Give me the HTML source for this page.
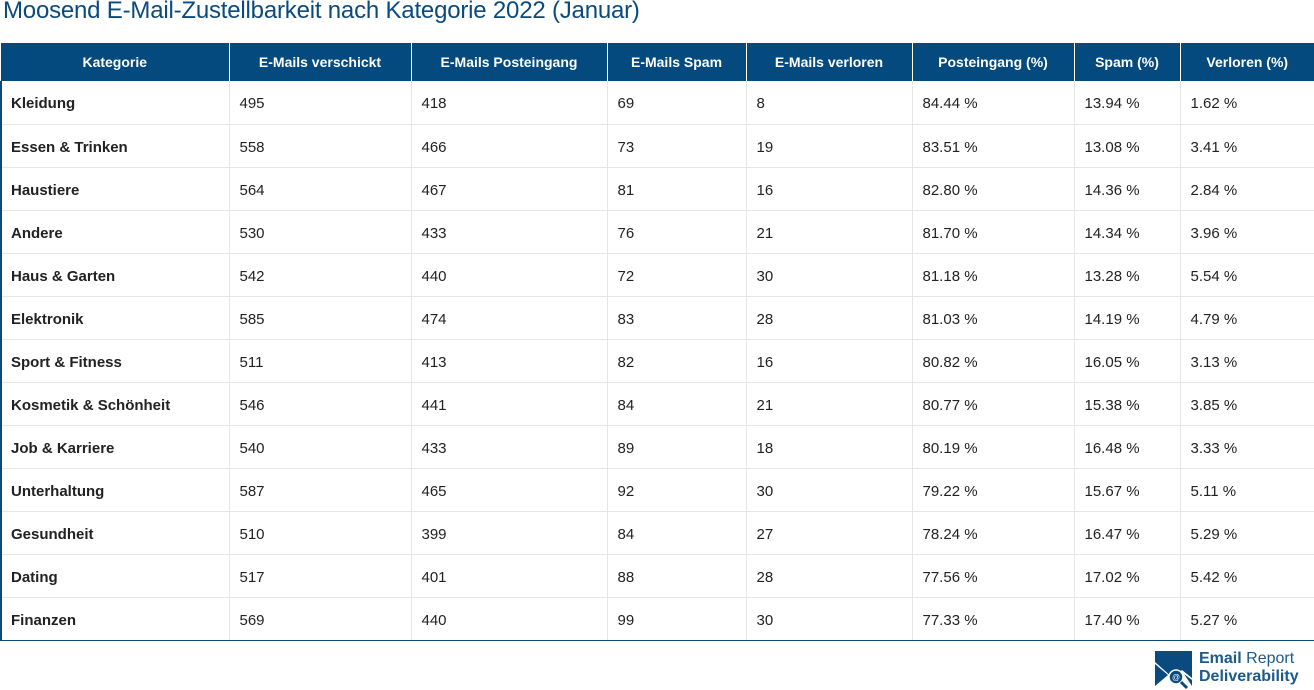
<!DOCTYPE html><html><head><style>
body{margin:0;width:1314px;height:689px;background:#fff;font-family:"Liberation Sans",sans-serif;overflow:hidden;position:relative}
h1{position:absolute;left:3px;top:-3px;margin:0;font-weight:normal;font-size:24px;color:#0a4a7e;letter-spacing:-0.2px}
table{position:absolute;left:0;top:43px;border-collapse:collapse;table-layout:fixed;width:1313px;font-size:15px;color:#222}
th{background:#044a7f;color:#fff;font-size:14px;font-weight:bold;height:38px;padding:0;text-align:center;border-left:1px solid #fff}
th:first-child{border-left:none}
td{height:43px;padding:3px 0 0 10px;box-sizing:border-box;border-top:1px solid #e6e6e6;border-left:1px solid #e6e6e6}
td:first-child{border-left:2px solid #0a4a7e;font-weight:bold;padding-left:9px}
td:last-child{border-right:1px solid #0a4a7e}
tr:last-child td{border-bottom:1px solid #0a4a7e}
tr:nth-child(2) td{border-top:none}
.logo{position:absolute;left:1154px;top:650px}
.lt{position:absolute;left:1199px;top:650px;color:#1a5a8e;font-size:16px;line-height:18px;font-weight:bold}
</style></head><body>
<h1>Moosend E-Mail-Zustellbarkeit nach Kategorie 2022 (Januar)</h1>
<table>
<colgroup><col style="width:228px"><col style="width:182px"><col style="width:196px"><col style="width:139px"><col style="width:166px"><col style="width:162px"><col style="width:106px"><col style="width:134px"></colgroup>
<tr><th>Kategorie</th><th>E-Mails verschickt</th><th>E-Mails Posteingang</th><th>E-Mails Spam</th><th>E-Mails verloren</th><th>Posteingang (%)</th><th>Spam (%)</th><th>Verloren (%)</th></tr>
<tr><td>Kleidung</td><td>495</td><td>418</td><td>69</td><td>8</td><td>84.44 %</td><td>13.94 %</td><td>1.62 %</td></tr>
<tr><td>Essen &amp; Trinken</td><td>558</td><td>466</td><td>73</td><td>19</td><td>83.51 %</td><td>13.08 %</td><td>3.41 %</td></tr>
<tr><td>Haustiere</td><td>564</td><td>467</td><td>81</td><td>16</td><td>82.80 %</td><td>14.36 %</td><td>2.84 %</td></tr>
<tr><td>Andere</td><td>530</td><td>433</td><td>76</td><td>21</td><td>81.70 %</td><td>14.34 %</td><td>3.96 %</td></tr>
<tr><td>Haus &amp; Garten</td><td>542</td><td>440</td><td>72</td><td>30</td><td>81.18 %</td><td>13.28 %</td><td>5.54 %</td></tr>
<tr><td>Elektronik</td><td>585</td><td>474</td><td>83</td><td>28</td><td>81.03 %</td><td>14.19 %</td><td>4.79 %</td></tr>
<tr><td>Sport &amp; Fitness</td><td>511</td><td>413</td><td>82</td><td>16</td><td>80.82 %</td><td>16.05 %</td><td>3.13 %</td></tr>
<tr><td>Kosmetik &amp; Schönheit</td><td>546</td><td>441</td><td>84</td><td>21</td><td>80.77 %</td><td>15.38 %</td><td>3.85 %</td></tr>
<tr><td>Job &amp; Karriere</td><td>540</td><td>433</td><td>89</td><td>18</td><td>80.19 %</td><td>16.48 %</td><td>3.33 %</td></tr>
<tr><td>Unterhaltung</td><td>587</td><td>465</td><td>92</td><td>30</td><td>79.22 %</td><td>15.67 %</td><td>5.11 %</td></tr>
<tr><td>Gesundheit</td><td>510</td><td>399</td><td>84</td><td>27</td><td>78.24 %</td><td>16.47 %</td><td>5.29 %</td></tr>
<tr><td>Dating</td><td>517</td><td>401</td><td>88</td><td>28</td><td>77.56 %</td><td>17.02 %</td><td>5.42 %</td></tr>
<tr><td>Finanzen</td><td>569</td><td>440</td><td>99</td><td>30</td><td>77.33 %</td><td>17.40 %</td><td>5.27 %</td></tr>
</table>
<svg class="logo" width="40" height="40" viewBox="0 0 40 40"><path d="M1 1H38V28L28 20 19 28 1 12Z" fill="#0a4a7e"/><path d="M1 14L14 25 1 36Z" fill="#0a4a7e"/><path d="M38 30L30 24 38 36Z" fill="#0a4a7e"/><circle cx="22" cy="27" r="7" fill="#0a4a7e" stroke="#fff" stroke-width="1.5"/><text x="22" y="30" font-size="8" fill="#fff" text-anchor="middle">@</text><path d="M27 32L33 38" stroke="#0a4a7e" stroke-width="3"/></svg>
<div class="lt">Email <span style="font-weight:normal">Report</span><br>Deliverability</div>
</body></html>
